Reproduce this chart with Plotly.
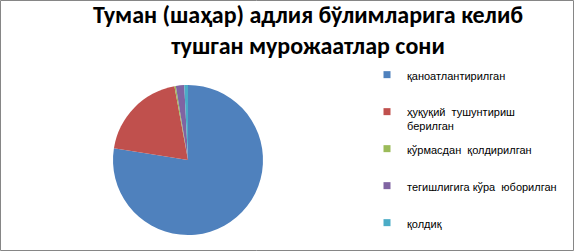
import plotly.graph_objects as go

labels = ["қаноатлантирилган", "ҳуқуқий  тушунтириш<br>берилган", "кўрмасдан  қолдирилган",
          "тегишлигига кўра  юборилган", "қолдиқ"]
values = [77.5, 19.6, 0.3, 1.8, 0.8]
colors = ["#4F81BD", "#C0504D", "#9BBB59", "#8064A2", "#4BACC6"]
title_text = "Туман (шаҳар) адлия бўлимларига келиб<br>тушган мурожаатлар сони"

W, H = 574, 251
fig = go.Figure()
fig.add_trace(go.Pie(
    labels=labels, values=values, sort=False, direction="clockwise", rotation=0,
    marker=dict(colors=colors, line=dict(width=0)), textinfo="none", showlegend=False,
    domain=dict(x=[113 / W, 263 / W], y=[1 - 235 / H, 1 - 85 / H]),
))

legend_tops = [61, 98, 135, 172, 209]
layout_legends = {}
for i, (lab, col) in enumerate(zip(labels, colors)):
    key = "legend" if i == 0 else f"legend{i + 1}"
    fig.add_trace(go.Scatter(x=[None], y=[None], mode="markers", name=lab,
                             marker=dict(symbol="square", size=7, color=col),
                             legend=key, showlegend=True, hoverinfo="skip"))
    layout_legends[key] = dict(
        x=367 / W, xanchor="left", y=1 - legend_tops[i] / H, yanchor="top",
        bgcolor="rgba(0,0,0,0)", font=dict(family="Liberation Sans, Arial", size=11, color="#000000"),
        valign="top", itemclick=False, itemdoubleclick=False,
    )

fig.update_layout(
    width=W, height=H,
    margin=dict(l=0, r=0, t=0, b=0, pad=0),
    paper_bgcolor="white", plot_bgcolor="white",
    xaxis=dict(visible=False), yaxis=dict(visible=False),
    title=dict(text=title_text, x=308 / W, xanchor="center", y=1 - 23 / H, yanchor="top",
               yref="container",
               font=dict(family="Carlito, Liberation Sans Narrow, Liberation Sans, Arial", size=24,
                         weight="bold", color="#000000")),
    shapes=[dict(type="rect", xref="paper", yref="paper", x0=0.5 / W, x1=1 - 0.5 / W,
                 y0=0.5 / H, y1=1 - 0.5 / H, line=dict(color="#868686", width=1))],
    **layout_legends,
)
fig.write_html("out.html")
